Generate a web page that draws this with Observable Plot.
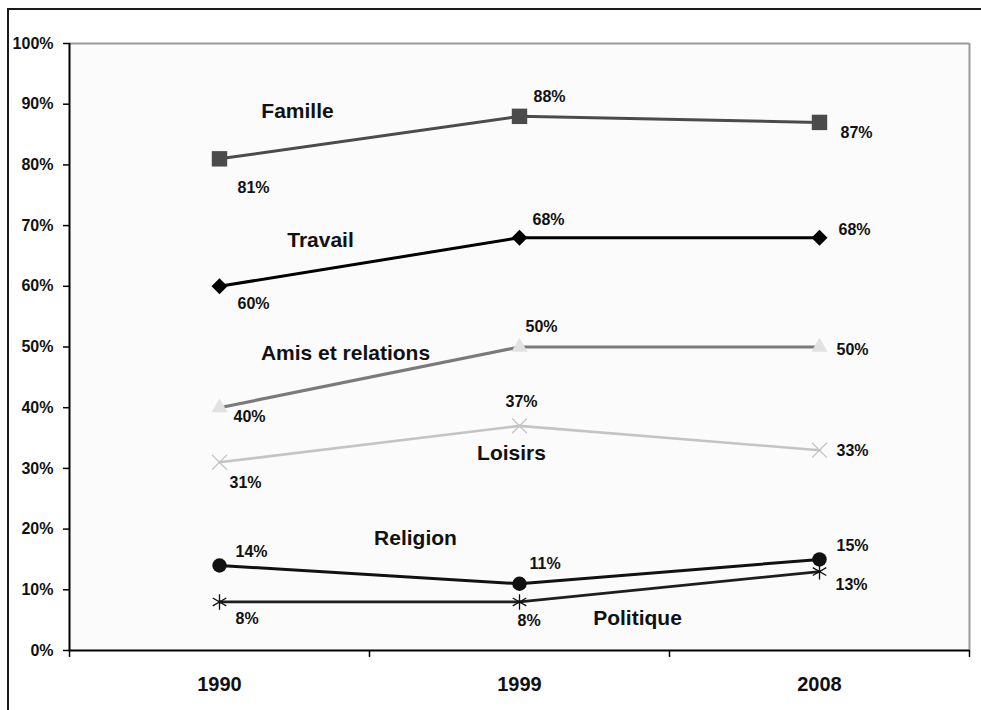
<!DOCTYPE html>
<html>
<head>
<meta charset="utf-8">
<script src="https://cdn.jsdelivr.net/npm/d3@7"></script>
<script src="https://cdn.jsdelivr.net/npm/@observablehq/plot@0.6"></script>
<style>
  html, body { margin: 0; padding: 0; background: #fff; overflow: hidden; }
  #wrap { position: relative; width: 981px; height: 710px; }
  #border { position: absolute; left: 7px; top: 8px; width: 1100px; height: 1000px;
            border: 2px solid #1a1a1a; pointer-events: none; }
  #chart { position: absolute; left: 0; top: 0; }
</style>
</head>
<body>
<div id="wrap"><div id="chart"></div><div id="border"></div></div>
<script>
// ---- data ----
const years = ["1990", "1999", "2008"];
const seriesNames = ["Famille", "Travail", "Amis et relations", "Loisirs", "Religion", "Politique"];
const famille = [81, 88, 87];
const travail = [60, 68, 68];
const amis = [40, 50, 50];
const loisirs = [31, 37, 33];
const religion = [14, 11, 15];
const politique = [8, 8, 13];
const seriesValues = [famille, travail, amis, loisirs, religion, politique];
const yTicks = [0, 10, 20, 30, 40, 50, 60, 70, 80, 90, 100];

// ---- styles / layout ----
const lineColors = ["#4b4b4b", "#000000", "#7a7a7a", "#c4c4c4", "#111111", "#1e1e1e"];
const lineWidths = [3, 3, 3.2, 2.6, 3, 2.8];
const markerStyles = [
  {symbol: "square", r: 8.7, fill: "#4b4b4b"},
  {symbol: "square", rotate: 45, r: 6.4, fill: "#000000"},
  {symbol: "triangle", r: 6, fill: "#e2e2e2"},
  {symbol: "times", r: 6.8, fill: "none", stroke: "#c4c4c4", strokeWidth: 1.3},
  {symbol: "circle", r: 7.2, fill: "#111111"},
  {symbol: "asterisk", r: 7.4, fill: "none", stroke: "#111111", strokeWidth: 1.3}
];
// value label offsets (px) from each point, text starts at dx
const valueDx = [[18, 14, 21], [18, 13, 19], [14, 6, 17], [10, -14, 17], [16, 10, 17], [16, -2, 16]];
const valueDy = [[29, -19, 10], [18, -18, -8], [9, -20, 3], [21, -24, 1], [-14, -20, -14], [17, 19, 13]];
// series name anchors: point index and offset
const nameAt = [0, 0, 0, 1, 0, 1];
const nameDx = [78, 101, 126, -8, 196, 118];
const nameDy = [-48, -46, -54, 27, -27, 16];

const xCenters = years.map((_, i) => i + 0.5);
const xBounds = d3.range(years.length + 1);

const marks = [
  Plot.frame({fill: "#fbfbfb", stroke: null}),
  Plot.ruleY([100], {stroke: "#9a9a9a", strokeWidth: 2}),
  Plot.ruleX([years.length], {stroke: "#9a9a9a", strokeWidth: 2}),
  Plot.axisY(yTicks, {
    tickSize: 6, tickPadding: 10, tickFormat: d => d + "%",
    fontSize: 16, fontWeight: "bold", fill: "#111", stroke: "#000", strokeWidth: 1.5, label: null
  }),
  Plot.axisX(xBounds, {tickSize: 7, tickFormat: () => "", stroke: "#000", strokeWidth: 1.5, label: null}),
  Plot.axisX(xCenters, {
    tickSize: 0, tickPadding: 26, tickFormat: d => years[Math.round(d - 0.5)],
    fontSize: 20, fontWeight: "bold", fill: "#111", label: null
  }),
  Plot.ruleX([0], {stroke: "#000", strokeWidth: 2}),
  Plot.ruleY([0], {stroke: "#000", strokeWidth: 2})
];

seriesValues.forEach((vals, s) => {
  const rows = vals.map((v, i) => ({x: i + 0.5, y: v, label: v + "%"}));
  marks.push(Plot.line(rows, {x: "x", y: "y", stroke: lineColors[s], strokeWidth: lineWidths[s]}));
  marks.push(Plot.dot(rows, {x: "x", y: "y", ...markerStyles[s]}));
  rows.forEach((r, i) => {
    marks.push(Plot.text([r], {
      x: "x", y: "y", text: "label", textAnchor: "start",
      dx: valueDx[s][i], dy: valueDy[s][i],
      fontSize: 16, fontWeight: "bold", fill: "#111"
    }));
  });
  const a = rows[nameAt[s]];
  marks.push(Plot.text([{x: a.x, y: a.y, name: seriesNames[s]}], {
    x: "x", y: "y", text: "name", textAnchor: "middle",
    dx: nameDx[s], dy: nameDy[s], fontSize: 21, fontWeight: "bold", fill: "#111"
  }));
});

const chart = Plot.plot({
  width: 981,
  height: 710,
  marginLeft: 69,
  marginRight: 12,
  marginTop: 43,
  marginBottom: 60,
  style: {fontFamily: "'Liberation Sans', Arial, sans-serif", background: "transparent", overflow: "visible"},
  x: {type: "linear", domain: [0, years.length], axis: null},
  y: {domain: [0, 100], axis: null},
  marks
});
document.getElementById("chart").appendChild(chart);
</script>
</body>
</html>
